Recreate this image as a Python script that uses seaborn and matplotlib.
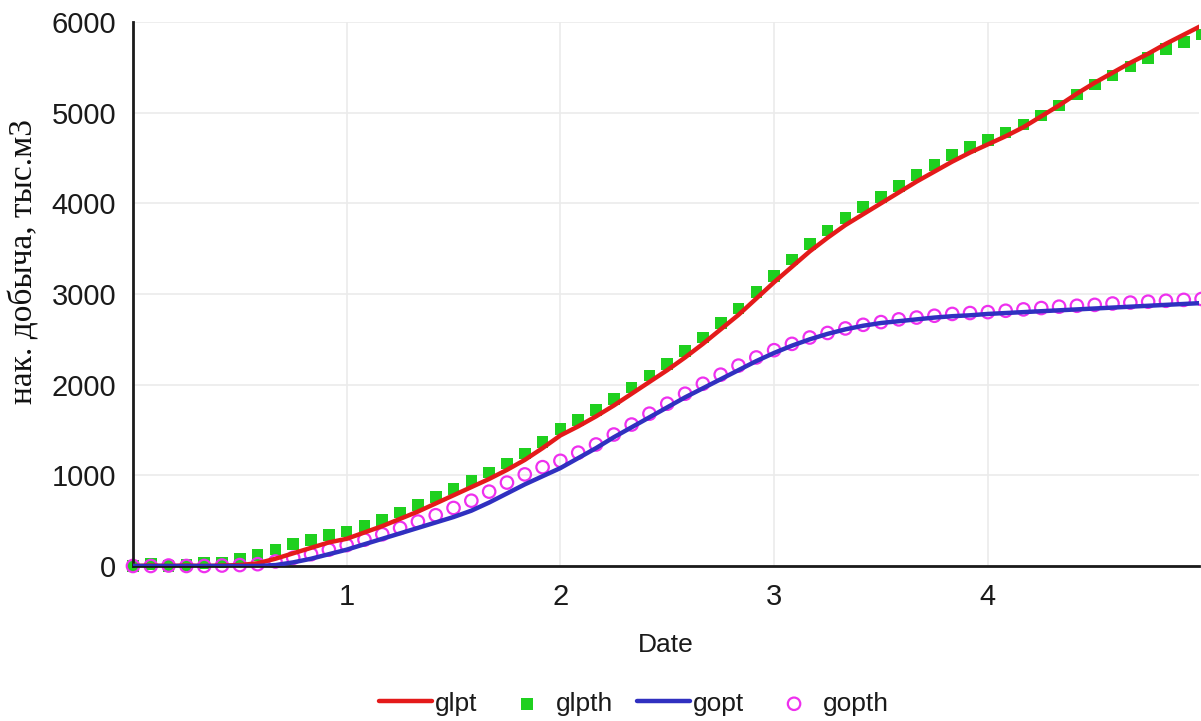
import matplotlib
matplotlib.use("Agg")
import matplotlib.pyplot as plt
import numpy as np
import pandas as pd
import seaborn as sns

# monthly points, x in years
months = list(range(61))

glpt = [0, 5, 0, 5, 0, 5, 10, 30, 80, 140, 200, 260, 300,
        370, 440, 520, 600, 690, 780, 870, 960, 1060, 1170, 1300, 1440,
        1540, 1650, 1770, 1900, 2030, 2160, 2300, 2450, 2610, 2770, 2950, 3130,
        3300, 3470, 3620, 3760, 3880, 4000, 4120, 4240, 4350, 4460, 4560, 4650,
        4740, 4840, 4960, 5080, 5210, 5330, 5440, 5550, 5650, 5760, 5860, 5960]

glpth = [0, 20, 0, 10, 30, 40, 80, 120, 180, 240, 290, 340, 380,
         440, 510, 590, 670, 760, 850, 940, 1030, 1130, 1240, 1370, 1510,
         1610, 1720, 1840, 1970, 2100, 2230, 2370, 2520, 2680, 2840, 3020, 3200,
         3380, 3550, 3700, 3840, 3960, 4070, 4190, 4310, 4420, 4530, 4620, 4700,
         4780, 4870, 4970, 5080, 5200, 5310, 5410, 5510, 5600, 5700, 5780, 5860]

gopt = [0, 0, 0, 0, 0, 0, 0, 0, 10, 40, 80, 130, 180,
        240, 300, 360, 420, 480, 540, 610, 700, 800, 900, 990, 1080,
        1190, 1300, 1420, 1530, 1640, 1750, 1860, 1960, 2060, 2160, 2260, 2350,
        2430, 2500, 2560, 2610, 2650, 2680, 2700, 2720, 2740, 2755, 2765, 2780,
        2790, 2800, 2810, 2820, 2830, 2840, 2850, 2860, 2870, 2880, 2890, 2900]

gopth = [0, 0, 5, 0, 0, 5, 10, 20, 50, 90, 130, 180, 230,
         290, 350, 420, 490, 560, 640, 720, 820, 920, 1010, 1090, 1160,
         1250, 1340, 1450, 1560, 1680, 1790, 1900, 2010, 2110, 2210, 2300, 2380,
         2450, 2520, 2570, 2620, 2660, 2690, 2720, 2740, 2760, 2780, 2790, 2800,
         2815, 2830, 2845, 2860, 2870, 2880, 2895, 2905, 2915, 2925, 2935, 2945]

df = pd.DataFrame({"t": np.array(months) / 12.0, "glpt": glpt, "glpth": glpth,
                   "gopt": gopt, "gopth": gopth})

sns.set_theme(style="whitegrid")
plt.rcParams['font.family'] = ['Liberation Sans', 'DejaVu Sans']

fig = plt.figure(figsize=(12.01, 7.21), dpi=100)
ax = fig.add_axes([0.1107, 0.215, 0.888, 0.7545])

sns.scatterplot(data=df, x="t", y="glpth", marker="s", s=70, color="#1fd01f",
                edgecolor="none", label="glpth", zorder=2, clip_on=False, ax=ax)
sns.scatterplot(data=df, x="t", y="gopth", marker="o", s=80, facecolors="none",
                edgecolor="#ee30ee", linewidth=1.6, label="gopth", zorder=2,
                clip_on=False, ax=ax)
sns.lineplot(data=df, x="t", y="glpt", color="#e41a1a", linewidth=3.2,
             label="glpt", zorder=3, ax=ax)
sns.lineplot(data=df, x="t", y="gopt", color="#3030c0", linewidth=3.2,
             label="gopt", zorder=4, ax=ax)

ax.set_xlim(0, 4.99)
ax.set_ylim(0, 6000)
ax.set_xticks([1, 2, 3, 4])
ax.set_yticks(range(0, 6001, 1000))
ax.grid(color="#ebebeb", linewidth=1.2)
ax.set_facecolor("white")
for s in ["top", "right"]:
    ax.spines[s].set_visible(False)
for s in ["left", "bottom"]:
    ax.spines[s].set_color("#1a1a1a")
    ax.spines[s].set_linewidth(2)
ax.tick_params(axis="both", direction="out", length=7, width=2, color="#1a1a1a",
               labelsize=21, labelcolor="#1a1a1a", pad=5)

ax.set_xlabel("Date", fontsize=19, color="#1a1a1a", labelpad=16)
ax.set_ylabel("нак. добыча, тыс.м3", fontsize=24, color="#111111",
              family="Liberation Serif", labelpad=6)
ax.yaxis.set_label_coords(-0.088, 0.56)

handles, labels = ax.get_legend_handles_labels()
order = ["glpt", "glpth", "gopt", "gopth"]
hmap = dict(zip(labels, handles))
ax.get_legend().remove()
fig.legend([hmap[k] for k in order], order, loc="center",
           bbox_to_anchor=(0.528, 0.024), ncol=4, frameon=False, fontsize=19,
           handlelength=2.0, columnspacing=0.9, handletextpad=0.1,
           labelcolor="#1a1a1a")

fig.savefig("out.png", dpi=100)
